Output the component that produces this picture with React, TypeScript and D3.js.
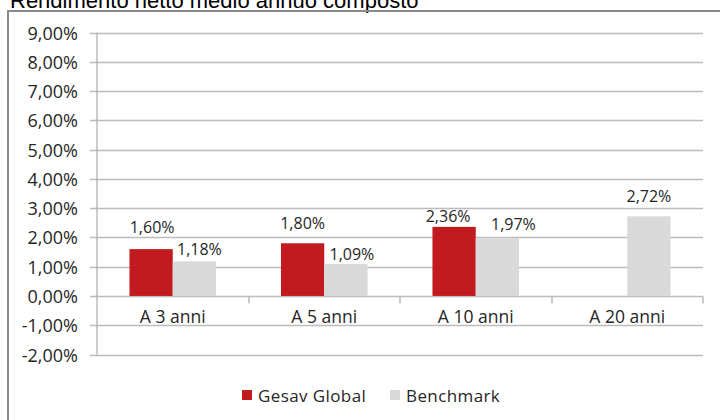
import React from "react";
import * as d3 from "d3";

const title = "Rendimento netto medio annuo composto";
const categories = ["A 3 anni", "A 5 anni", "A 10 anni", "A 20 anni"];
const seriesNames = ["Gesav Global", "Benchmark"];
const gesavValues: (number | null)[] = [1.6, 1.8, 2.36, null];
const benchmarkValues: (number | null)[] = [1.18, 1.09, 1.97, 2.72];
const yTicks = [-2, -1, 0, 1, 2, 3, 4, 5, 6, 7, 8, 9];

const colors = ["#c21b1f", "#d9d9d9"];
// label nudges [dx, dy] per series per category (manual placement as in original)
const labelNudge = [
  [[1, -11], [0, -9], [-6, 0], [0, 0]],
  [[5, -1], [6, 1], [16, -3], [0, -9]],
];

const fmt = (v: number) => v.toFixed(2).replace(".", ",") + "%";

export default function App() {
  const W = 720, H = 420;
  const left = 97, right = 703, top = 32.5, bottom = 354.5;
  const y = d3.scaleLinear().domain([-2, 9]).range([bottom, top]);
  const x = d3.scaleBand<string>().domain(categories).range([left, right]).padding(0);
  const xs = d3.scaleBand<string>().domain(seriesNames).range([0, x.bandwidth()]).paddingInner(0).paddingOuter(0.75);
  const series = [gesavValues, benchmarkValues];
  const font = "'Open Sans', sans-serif";
  const textColor = "#262626";
  const y0 = Math.round(y(0)) + 0.5;

  return (
    <svg width={W} height={H} style={{ position: "absolute", left: 0, top: 0, background: "#fff" }}>
      <text x={10} y={8} fontFamily="'Liberation Sans', Arial, sans-serif" fontSize={22} fill="#000">{title}</text>
      <rect x={8} y={11} width={800} height={500} fill="none" stroke="#8a8a8a" strokeWidth={2} />
      {yTicks.map((t) => {
        const yy = Math.round(y(t)) + 0.5;
        return (
          <g key={t}>
            <line x1={90} x2={right} y1={yy} y2={yy} stroke="#bcbcbc" strokeWidth={1.3} />
            <text x={78} y={yy + 6} textAnchor="end" fontFamily={font} fontSize={18} fill={textColor}>{fmt(t)}</text>
          </g>
        );
      })}
      <line x1={left} x2={left} y1={top} y2={bottom} stroke="#b0b0b0" strokeWidth={1.3} />
      {categories.map((c, i) => (
        <line key={"t" + i} x1={Math.round(x(c)! + x.bandwidth())} x2={Math.round(x(c)! + x.bandwidth())} y1={y0} y2={y0 + 7} stroke="#b0b0b0" strokeWidth={1.3} />
      ))}
      {series.map((vals, si) =>
        vals.map((v, ci) => {
          if (v == null) return null;
          const bx = x(categories[ci])! + xs(seriesNames[si])!;
          const by = y(v);
          return (
            <rect key={si + "-" + ci} x={bx} y={by} width={xs.bandwidth()} height={y(0) - by} fill={colors[si]} />
          );
        })
      )}
      {series.map((vals, si) =>
        vals.map((v, ci) => {
          if (v == null) return null;
          const cx = x(categories[ci])! + xs(seriesNames[si])! + xs.bandwidth() / 2;
          const [dx, dy] = labelNudge[si][ci];
          return (
            <text key={"l" + si + "-" + ci} x={cx + dx} y={y(v) - 5 + dy} textAnchor="middle" fontFamily={font} fontSize={16} fill={textColor}>{fmt(v)}</text>
          );
        })
      )}
      {categories.map((c) => (
        <text key={"c" + c} x={x(c)! + x.bandwidth() / 2} y={323} textAnchor="middle" fontFamily={font} fontSize={17.5} fill={textColor}>{c}</text>
      ))}
      {seriesNames.map((s, i) => {
        const lx = [242, 390][i];
        return (
          <g key={"lg" + s}>
            <rect x={lx} y={390} width={10} height={10} fill={colors[i]} />
            <text x={lx + 16} y={402} fontFamily={font} fontSize={17} letterSpacing={0.4} fill={textColor}>{s}</text>
          </g>
        );
      })}
    </svg>
  );
}
